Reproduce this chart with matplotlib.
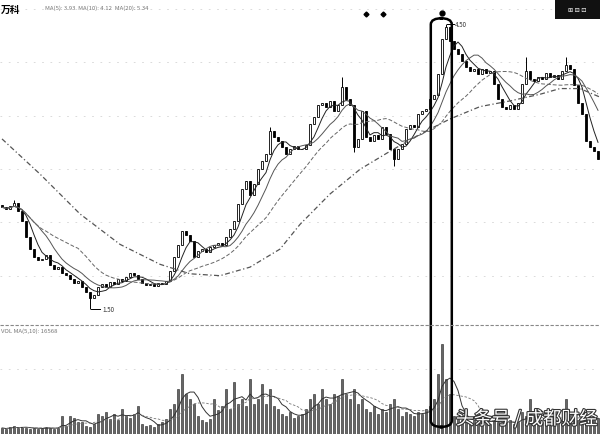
import numpy as np
import pandas as pd
import matplotlib
matplotlib.use('Agg')
import matplotlib.pyplot as plt
from matplotlib.patches import FancyBboxPatch, Rectangle
from matplotlib.lines import Line2D
import matplotlib.patheffects as pe

plt.rcParams['font.family'] = ['Noto Sans CJK SC', 'DejaVu Sans']

# --- data ---
closes = [2.57, 2.55, 2.58, 2.62, 2.53, 2.43, 2.26, 2.13, 2.05, 2.01,
          2.03, 2.07, 1.96, 1.92, 1.94, 1.88, 1.86, 1.82, 1.77, 1.79,
          1.73, 1.68, 1.61, 1.65, 1.73, 1.76, 1.73, 1.78, 1.76, 1.82,
          1.79, 1.84, 1.88, 1.86, 1.82, 1.77, 1.75, 1.76, 1.74, 1.77,
          1.76, 1.79, 1.90, 2.05, 2.17, 2.32, 2.28, 2.22, 2.05, 2.11,
          2.13, 2.10, 2.15, 2.17, 2.19, 2.17, 2.26, 2.34, 2.43, 2.61,
          2.76, 2.85, 2.70, 2.82, 2.97, 3.06, 3.13, 3.37, 3.31, 3.27,
          3.21, 3.13, 3.18, 3.22, 3.18, 3.18, 3.23, 3.45, 3.52, 3.65,
          3.67, 3.63, 3.69, 3.58, 3.65, 3.84, 3.71, 3.65, 3.21, 3.29,
          3.58, 3.31, 3.27, 3.33, 3.29, 3.42, 3.34, 3.18, 3.08, 3.18,
          3.24, 3.39, 3.44, 3.42, 3.55, 3.58, 3.61, 3.71, 3.75, 3.97,
          4.34, 4.47, 4.32, 4.24, 4.18, 4.11, 4.05, 4.01, 4.03, 3.97,
          4.03, 3.98, 4.01, 3.87, 3.71, 3.63, 3.61, 3.65, 3.61, 3.67,
          3.87, 4.01, 3.92, 3.90, 3.94, 3.92, 3.98, 3.94, 3.96, 3.92,
          4.01, 4.07, 4.03, 3.86, 3.67, 3.55, 3.27, 3.21, 3.16, 3.08]

# extreme wicks (index -> price)
spike_highs = {3: 2.65, 85: 3.94, 111: 4.50, 131: 4.15, 141: 4.15, 67: 3.42}
spike_lows = {22: 1.50, 98: 3.01, 88: 3.15}

volumes = [6, 5, 7, 8, 6, 7, 6, 5, 6, 5, 6, 7, 6, 5, 6, 18, 8, 18, 16, 12,
           12, 8, 7, 10, 20, 18, 22, 15, 20, 14, 25, 18, 16, 20, 28, 10, 8, 9, 7, 10,
           12, 15, 25, 30, 45, 60, 40, 35, 30, 18, 14, 12, 15, 35, 24, 28, 45, 25, 52, 30,
           35, 28, 55, 30, 35, 50, 30, 45, 28, 25, 20, 18, 22, 16, 18, 20, 25, 35, 40, 30,
           45, 35, 30, 40, 38, 55, 40, 35, 45, 30, 35, 25, 22, 28, 20, 25, 22, 30, 35, 25,
           18, 22, 20, 18, 22, 20, 25, 28, 35, 60, 90, 55, 40, 18, 15, 14, 16, 12, 14, 12,
           15, 12, 10, 14, 12, 10, 12, 14, 10, 12, 22, 18, 35, 15, 14, 12, 14, 12, 15, 12,
           14, 35, 18, 15, 14, 16, 18, 15, 14, 16]

# long moving average, read as points (bar index, price)
long_ma_idx = [0, 9.5, 19.5, 29.5, 39.5, 47, 54.5, 62, 69.5, 74.5, 82, 89.5,
               97, 104.5, 112, 119.5, 127, 134.5, 139.5, 144.5, 149.5]
long_ma_val = [3.29, 2.92, 2.50, 2.18, 1.97, 1.87, 1.85, 1.94, 2.13, 2.39, 2.71, 2.97,
               3.16, 3.34, 3.50, 3.63, 3.69, 3.76, 3.82, 3.82, 3.73]

grid_levels = [4.66, 4.10, 3.53, 2.97, 2.42, 1.85]

title_txt = 'MA(5): 3.93  MA(10): 4.12  MA(20): 5.34'
vol_txt = 'VOL MA(5,10): 16568'

# --- figure ---
fig = plt.figure(figsize=(6, 4.35), dpi=100, facecolor='white')
ax = fig.add_axes([0, 0.253, 1, 0.747])
axv = fig.add_axes([0, 0, 1, 0.241])

n = len(closes)
x = np.arange(n)
c = np.array(closes)
o = np.concatenate([[c[0] + 0.02], c[:-1]])
hi = np.maximum(o, c)
lo = np.minimum(o, c)
for k, v in spike_highs.items():
    hi[k] = v
for k, v in spike_lows.items():
    lo[k] = v

for lv in grid_levels:
    ax.axhline(lv, color='#d4d4d4', lw=0.6, ls=(0, (2, 8)), zorder=0)

ax.vlines(x, lo, hi, color='black', lw=0.7, zorder=2)
up = c >= o
ax.bar(x[up], (c - o)[up], bottom=o[up], width=0.55, facecolor='white',
       edgecolor='black', lw=0.6, zorder=3)
ax.bar(x[~up], (o - c)[~up], bottom=c[~up], width=0.55, facecolor='black',
       edgecolor='black', lw=0.6, zorder=3)

s = pd.Series(closes)
ax.plot(x, s.rolling(5, min_periods=1).mean(), color='#222222', lw=0.7, zorder=4)
ax.plot(x, s.rolling(10, min_periods=1).mean(), color='#555555', lw=0.7, zorder=4)
ax.plot(x, s.rolling(20, min_periods=1).mean(), color='#666666', lw=0.7,
        ls=(0, (4, 2)), zorder=4)
ax.plot(long_ma_idx, long_ma_val, color='#555555', lw=0.9, ls=(0, (4, 2, 1, 2)), zorder=4)

ax.set_xlim(-0.5, 149.5)
ax.set_ylim(1.342, 4.763)
ax.axis('off')

# low / high labels
ax.plot([22.2, 24.5], [1.50, 1.50], color='black', lw=0.7)
ax.text(25, 1.50, '1.50', fontsize=4.5, va='center', color='#333333')
ax.plot([111.3, 113.0], [4.50, 4.50], color='black', lw=0.7)
ax.text(113.3, 4.50, '4.50', fontsize=4.5, va='center', color='#333333')

# header
ax.text(0.002, 0.985, '万科', transform=ax.transAxes, fontsize=7, fontweight='bold',
        va='top', ha='left', color='black')
ax.text(0.075, 0.982, title_txt, transform=ax.transAxes, fontsize=4.3,
        va='top', ha='left', color='#777777')

# markers above the chart
ax.plot([91, 95.3], [4.61, 4.61], ls='none', marker='D', ms=2.5, color='black')
ax.plot([110], [4.62], ls='none', marker='o', ms=3.5, color='black')

# --- volume ---
v = pd.Series(volumes)
axv.bar(x, volumes, width=0.6, facecolor='#666666', edgecolor='#222222', lw=0.4)
axv.plot(x, v.rolling(5, min_periods=1).mean(), color='#333333', lw=0.7)
axv.plot(x, v.rolling(10, min_periods=1).mean(), color='#777777', lw=0.6, ls=(0, (3, 2)))
axv.axhline(65, color='#d4d4d4', lw=0.6, ls=(0, (2, 8)), zorder=0)
axv.set_xlim(-0.5, 149.5)
axv.set_ylim(0, 105)
axv.axis('off')
axv.text(0.002, 1.02, vol_txt, transform=axv.transAxes, fontsize=4.3,
         va='top', ha='left', color='#777777')

# divider between panels
fig.add_artist(Line2D([0, 1], [1 - 326 / 435, 1 - 326 / 435], color='#888888',
                      lw=0.8, ls=(0, (3, 1.5))))

# highlight frame around the spike
fig.add_artist(FancyBboxPatch((0.718, 0.016), 0.035, 0.94,
                              boxstyle='round,pad=0,rounding_size=0.02',
                              transform=fig.transFigure, fill=False,
                              edgecolor='black', lw=1.8, mutation_aspect=0.72))

# dark toolbar box top-right
fig.add_artist(Rectangle((0.925, 0.953), 0.075, 0.047, transform=fig.transFigure,
                         facecolor='#111111', edgecolor='none'))
fig.text(0.962, 0.976, '⊞ ⊟ ⊡', fontsize=4.5, color='white', ha='center', va='center')

# watermark
fig.text(0.995, 0.035, '头条号 / 成都财经', fontsize=13, color='white', ha='right',
         va='center', path_effects=[pe.withStroke(linewidth=1.6, foreground='#333333')])

fig.savefig('out.png', dpi=100)
